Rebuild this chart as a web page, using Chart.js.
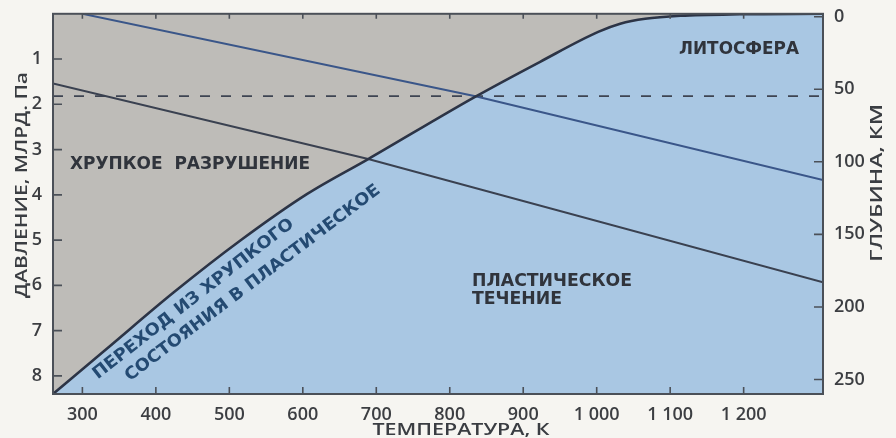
<!DOCTYPE html>
<html>
<head>
<meta charset="utf-8">
<script src="https://cdn.jsdelivr.net/npm/chart.js@4.4.1/dist/chart.umd.min.js"></script>
<style>
  html, body { margin: 0; padding: 0; background: #f6f5f1; }
  #wrap { width: 896px; height: 438px; position: relative; }
</style>
</head>
<body>
<div id="wrap"><canvas id="chart" width="896" height="438"></canvas></div>
<script>
// Axis ticks
const temperatureTicks = [300, 400, 500, 600, 700, 800, 900, 1000, 1100, 1200];
const pressureTicks = [1, 2, 3, 4, 5, 6, 7, 8];
const depthTicks = [0, 50, 100, 150, 200, 250];

// Brittle–ductile transition: temperature (K) and pressure (GPa)
const transitionT = [260, 334, 424, 515, 606, 689, 835, 923, 1002, 1032, 1066, 1114, 1195, 1308];
const transitionP = [8.4, 7.39, 6.16, 5.01, 3.98, 3.21, 1.83, 1.06, 0.40, 0.22, 0.11, 0.044, 0.01, 0];

// Two geotherms
const upperGeothermT = [300, 835, 1308];
const upperGeothermP = [0, 1.82, 3.67];
const lowerGeothermT = [260, 689, 1308];
const lowerGeothermP = [1.54, 3.21, 5.93];

// Base of the lithosphere (dashed)
const lithosphereT = [260, 1308];
const lithosphereP = [1.82, 1.82];

const toPoints = (xs, ys) => xs.map((x, i) => ({ x, y: ys[i] }));

const TEXT_FONT = '"DejaVu Sans", sans-serif';

// Text fitted to a given width by a horizontal stretch
function fitText(ctx, text, x, y, width, opts) {
  ctx.save();
  ctx.font = opts.font;
  ctx.fillStyle = opts.color;
  ctx.textBaseline = 'middle';
  ctx.textAlign = opts.align || 'left';
  ctx.translate(x, y);
  if (opts.angle) ctx.rotate(opts.angle * Math.PI / 180);
  const w = ctx.measureText(text).width;
  ctx.scale(width / w, 1);
  ctx.fillText(text, 0, 0);
  ctx.restore();
}

const framePlugin = {
  id: 'frameAndLabels',
  afterDatasetsDraw(chart) {
    const { ctx, chartArea: a, scales } = chart;
    ctx.save();
    ctx.strokeStyle = '#4b5058';
    ctx.lineWidth = 2;
    ctx.strokeRect(a.left, a.top, a.right - a.left, a.bottom - a.top);

    // inward tick marks
    ctx.lineWidth = 1.6;
    ctx.beginPath();
    scales.x.ticks.forEach(t => {
      const px = scales.x.getPixelForValue(t.value);
      ctx.moveTo(px, a.bottom); ctx.lineTo(px, a.bottom - 7);
      ctx.moveTo(px, a.top); ctx.lineTo(px, a.top + 5);
    });
    scales.y.ticks.forEach(t => {
      const py = scales.y.getPixelForValue(t.value);
      ctx.moveTo(a.left, py); ctx.lineTo(a.left + 9, py);
    });
    scales.y2.ticks.forEach(t => {
      const py = scales.y2.getPixelForValue(t.value);
      ctx.moveTo(a.right, py); ctx.lineTo(a.right - 9, py);
    });
    ctx.stroke();
    ctx.restore();

    const regionFont = 'bold 17px ' + TEXT_FONT;
    const dark = '#30343c';
    fitText(ctx, 'ХРУПКОЕ  РАЗРУШЕНИЕ', 70, 165, 240, { font: regionFont, color: dark });
    fitText(ctx, 'ЛИТОСФЕРА', 679, 50, 120, { font: regionFont, color: dark });
    fitText(ctx, 'ПЛАСТИЧЕСКОЕ', 472, 282, 160, { font: regionFont, color: dark });
    fitText(ctx, 'ТЕЧЕНИЕ', 472, 300, 90, { font: regionFont, color: dark });

    const blueText = '#244a72';
    fitText(ctx, 'ПЕРЕХОД ИЗ ХРУПКОГО', 95, 376, 250, { font: regionFont, color: blueText, angle: -38 });
    fitText(ctx, 'СОСТОЯНИЯ В ПЛАСТИЧЕСКОЕ', 127, 378, 315, { font: regionFont, color: blueText, angle: -37 });

    const titleFont = '600 16px "Open Sans", sans-serif';
    const titleColor = '#3a3d42';
    fitText(ctx, 'ДАВЛЕНИЕ, МЛРД. Па', 22, 185, 226, { font: titleFont, color: titleColor, angle: -90, align: 'center' });
    fitText(ctx, 'ГЛУБИНА, КМ', 877, 183, 158, { font: titleFont, color: titleColor, angle: -90, align: 'center' });
    fitText(ctx, 'ТЕМПЕРАТУРА, К', 461, 430, 177, { font: titleFont, color: titleColor, align: 'center' });
  }
};

const tickFont = { family: '"Open Sans", sans-serif', size: 18, weight: '600' };
const tickColor = '#3c3e42';

new Chart(document.getElementById('chart'), {
  type: 'line',
  data: {
    datasets: [
      {
        data: toPoints(transitionT, transitionP),
        fill: { value: 0 },
        backgroundColor: '#bebcb8',
        borderWidth: 0,
        pointRadius: 0,
        cubicInterpolationMode: 'monotone',
        order: 20
      },
      {
        data: toPoints(transitionT, transitionP),
        fill: { value: 8.4 },
        backgroundColor: '#a9c7e3',
        borderWidth: 0,
        pointRadius: 0,
        cubicInterpolationMode: 'monotone',
        order: 19
      },
      {
        data: toPoints(lithosphereT, lithosphereP),
        borderColor: '#3e4452',
        borderWidth: 1.8,
        borderDash: [10, 11],
        pointRadius: 0,
        fill: false,
        order: 6
      },
      {
        data: toPoints(upperGeothermT, upperGeothermP),
        borderColor: '#3a5689',
        borderWidth: 2,
        pointRadius: 0,
        fill: false,
        order: 5
      },
      {
        data: toPoints(lowerGeothermT, lowerGeothermP),
        borderColor: '#3a4150',
        borderWidth: 2,
        pointRadius: 0,
        fill: false,
        order: 4
      },
      {
        data: toPoints(transitionT, transitionP),
        borderColor: '#2c3446',
        borderWidth: 2.6,
        pointRadius: 0,
        fill: false,
        cubicInterpolationMode: 'monotone',
        order: 1
      }
    ]
  },
  options: {
    responsive: false,
    animation: false,
    devicePixelRatio: 1,
    layout: { padding: { top: 12, left: 0, right: 0, bottom: 0 } },
    plugins: { legend: { display: false }, tooltip: { enabled: false } },
    scales: {
      x: {
        type: 'linear',
        min: 260,
        max: 1308,
        grid: { display: false },
        border: { display: false },
        afterBuildTicks: s => { s.ticks = temperatureTicks.map(v => ({ value: v })); },
        afterFit: s => { s.height = 44; },
        ticks: {
          padding: 2,
          maxRotation: 0,
          autoSkip: false,
          font: tickFont,
          color: tickColor,
          callback: v => v >= 1000 ? Math.floor(v / 1000) + ' ' + String(v % 1000).padStart(3, '0') : String(v)
        }
      },
      y: {
        type: 'linear',
        position: 'left',
        reverse: true,
        min: 0,
        max: 8.4,
        grid: { display: false },
        border: { display: false },
        afterBuildTicks: s => { s.ticks = pressureTicks.map(v => ({ value: v })); },
        afterFit: s => { s.width = 53; },
        ticks: { padding: 3, autoSkip: false, font: tickFont, color: tickColor }
      },
      y2: {
        type: 'linear',
        position: 'right',
        reverse: true,
        min: -2,
        max: 260,
        grid: { display: false },
        border: { display: false },
        afterBuildTicks: s => { s.ticks = depthTicks.map(v => ({ value: v })); },
        afterFit: s => { s.width = 73; },
        ticks: { padding: 3, autoSkip: false, font: tickFont, color: tickColor }
      }
    }
  },
  plugins: [framePlugin]
});
</script>
</body>
</html>
